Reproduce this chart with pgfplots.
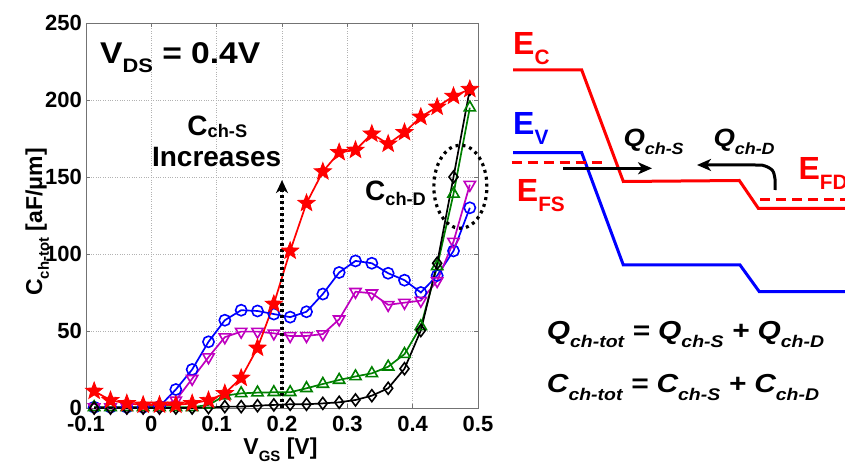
\documentclass[border=0pt]{standalone}
\usepackage{pgfplots}
\pgfplotsset{compat=1.18}
\usepackage{graphicx}
\usepackage{fontspec}
\setmainfont{Liberation Sans}
\usetikzlibrary{arrows.meta}

\definecolor{mred}{rgb}{1,0,0}
\definecolor{mblue}{rgb}{0,0,1}
\definecolor{mmag}{rgb}{0.75,0,0.75}
\definecolor{mgreen}{rgb}{0,0.5,0}

% lowered, smaller subscript in the current text font (optional drop)
\makeatletter
\newcommand\sub[2][0.3em]{\raisebox{-#1}{\fontsize{\the\dimexpr\f@size pt*13/20\relax}{\baselineskip}\selectfont #2}}
\makeatother
\newcommand\fs[1]{\fontsize{#1}{#1}\selectfont\bfseries}

% filled five-pointed star
\pgfdeclareplotmark{fstar}{%
  \pgfpathmoveto{\pgfpointpolar{90}{\pgfplotmarksize}}%
  \pgfpathlineto{\pgfpointpolar{126}{0.42\pgfplotmarksize}}%
  \pgfpathlineto{\pgfpointpolar{162}{\pgfplotmarksize}}%
  \pgfpathlineto{\pgfpointpolar{198}{0.42\pgfplotmarksize}}%
  \pgfpathlineto{\pgfpointpolar{234}{\pgfplotmarksize}}%
  \pgfpathlineto{\pgfpointpolar{270}{0.42\pgfplotmarksize}}%
  \pgfpathlineto{\pgfpointpolar{306}{\pgfplotmarksize}}%
  \pgfpathlineto{\pgfpointpolar{342}{0.42\pgfplotmarksize}}%
  \pgfpathlineto{\pgfpointpolar{18}{\pgfplotmarksize}}%
  \pgfpathlineto{\pgfpointpolar{54}{0.42\pgfplotmarksize}}%
  \pgfpathclose
  \pgfusepathqfillstroke
}

\begin{document}
\bfseries
\begin{tikzpicture}
\useasboundingbox (0,0) rectangle (845pt,471pt);

% ---------------- capacitance vs gate voltage ----------------
\begin{axis}[
  at={(86pt,63pt)}, anchor=south west,
  scale only axis, width=392pt, height=385pt,
  xmin=-0.1, xmax=0.5, ymin=0, ymax=250,
  xtick={-0.1,0,0.1,0.2,0.3,0.4,0.5},
  xticklabels={-0.1,0,0.1,0.2,0.3,0.4,0.5},
  ytick={0,50,100,150,200,250},
  yticklabels={0,50,100,150,200,250},
  grid=major,
  major grid style={gray!60, dotted, line width=0.8pt},
  axis line style={black!55, line width=0.8pt},
  tick style={black!55, line width=0.8pt},
  tick align=inside, major tick length=4pt,
  ticklabel style={font=\fs{22}},
  xticklabel style={inner sep=0pt, yshift=-8pt},
  yticklabel style={inner sep=0pt, xshift=-4pt},
  xlabel={V\sub{GS} [V]},
  ylabel={C\sub{ch-tot} [aF/μm]},
  label style={font=\fs{23}},
  xlabel style={at={(axis description cs:0.496,-0.122)}, anchor=base},
  ylabel style={at={(axis description cs:-0.112,0.483)}, anchor=base},
  clip=false,
  every axis plot/.append style={line width=1.7pt},
]
\addplot[mblue, mark=o, mark size=5.6pt, mark options={line width=1.6pt}] coordinates {
(-0.0875,0.5)(-0.0625,0.5)(-0.0375,0.5)(-0.0125,0.5)(0.0125,1)(0.0375,12)
(0.0625,25)(0.0875,43)(0.1125,57)(0.1375,63.5)(0.1625,63)(0.1875,61)
(0.2125,59)(0.2375,62.5)(0.2625,74)(0.2875,88)(0.3125,95.5)(0.3375,94)
(0.3625,87.5)(0.3875,83)(0.4125,75)(0.4375,86)(0.4625,102)(0.4875,130)};
\addplot[mmag, mark=triangle, mark size=6.5pt, mark options={rotate=180, line width=1.6pt}] coordinates {
(-0.0875,0.5)(-0.0625,0.5)(-0.0375,0.5)(-0.0125,0.5)(0.0125,0.5)(0.0375,5)
(0.0625,19)(0.0875,33)(0.1125,46)(0.1375,49.6)(0.1625,49.6)(0.1875,48.5)
(0.2125,46.8)(0.2375,46.8)(0.2625,48)(0.2875,57.6)(0.3125,75.5)(0.3375,74.5)
(0.3625,67)(0.3875,68.4)(0.4125,69.7)(0.4375,82.5)(0.4625,108)(0.4875,145)};
\addplot[mgreen, mark=triangle, mark size=6.5pt, mark options={line width=1.6pt}] coordinates {
(-0.0875,0.5)(-0.0625,0.5)(-0.0375,0.5)(-0.0125,0.5)(0.0125,0.5)(0.0375,0.5)
(0.0625,0.5)(0.0875,2)(0.1125,8)(0.1375,9.5)(0.1625,10)(0.1875,10.2)
(0.2125,10.2)(0.2375,12.8)(0.2625,15.6)(0.2875,18.2)(0.3125,20.5)(0.3375,22.5)
(0.3625,26.8)(0.3875,35)(0.4125,53)(0.4375,92)(0.4625,139)(0.4875,195)};
\addplot[black, mark=diamond, mark size=6pt, mark options={line width=1.6pt}] coordinates {
(-0.0875,0)(-0.0625,0)(-0.0375,0)(-0.0125,0)(0.0125,0)(0.0375,0)
(0.0625,0)(0.0875,0.3)(0.1125,0.9)(0.1375,0.9)(0.1625,1.5)(0.1875,2)
(0.2125,2.4)(0.2375,2.4)(0.2625,3)(0.2875,3.7)(0.3125,5.2)(0.3375,8)
(0.3625,12.8)(0.3875,25.5)(0.4125,50.3)(0.4375,94)(0.4625,150)(0.4875,207)};
\addplot[mred, mark=fstar, mark size=9pt, mark options={fill=mred, line width=0.8pt}] coordinates {
(-0.0875,11)(-0.0625,5)(-0.0375,3)(-0.0125,2)(0.0125,2)(0.0375,2)
(0.0625,3)(0.0875,5)(0.1125,9.5)(0.1375,19.5)(0.1625,39)(0.1875,67.5)
(0.2125,102)(0.2375,133)(0.2625,153.5)(0.2875,166)(0.3125,167.5)(0.3375,178)
(0.3625,171.5)(0.3875,179)(0.4125,189)(0.4375,195.5)(0.4625,202.5)(0.4875,207)};

% annotations
\addplot[black, line width=3.2pt, dash pattern=on 3pt off 3pt,
  -{Stealth[length=13pt, width=12pt, inset=4pt]}] coordinates {(0.2,0)(0.2,148)};
\draw[black, line width=3.2pt, dash pattern=on 3pt off 4pt]
  (axis cs:0.473,143.7) ellipse [x radius=0.0406, y radius=27];
\node[anchor=base west, inner sep=0pt, font=\fs{30}] at (axis cs:-0.0786,223.8)
  {\scalebox{1.12}[1]{V\sub{DS} = 0.4V}};
\node[anchor=base, inner sep=0pt, font=\fs{28}] at (axis cs:0.101,177) {C\sub[0.08em]{ch-S}};
\node[anchor=base, inner sep=0pt, font=\fs{28}] at (axis cs:0.1,156.7) {Increases};
\node[anchor=base west, inner sep=0pt, font=\fs{28}] at (axis cs:0.327,135) {C\sub[0.2em]{ch-D}};
\end{axis}

% ---------------- band diagram ----------------
\begin{axis}[
  at={(0pt,0pt)}, anchor=south west,
  scale only axis, width=845pt, height=471pt,
  xmin=0, xmax=845, ymin=0, ymax=471,
  hide axis, clip=false,
]
\addplot[mred, line width=3pt] coordinates {
(513,401)(581.7,401)(623.3,289.5)(739.3,290.5)(758.3,262.7)(850,262.7)};
\addplot[mblue, line width=3pt] coordinates {
(513,318.3)(581.7,318.3)(623.3,206)(740,206)(759.3,179.3)(850,179.3)};
\addplot[mred, line width=3pt, dash pattern=on 10pt off 6pt] coordinates {(511.7,308.3)(605,308.3)};
\addplot[mred, line width=3pt, dash pattern=on 10pt off 6pt] coordinates {(760,271)(850,271)};
\addplot[black, line width=3pt, -{Stealth[length=14pt, width=12pt, inset=4pt]}]
  coordinates {(563.3,302.7)(652,302.7)};
\addplot[black, line width=3pt, smooth, -{Stealth[length=14pt, width=12pt, inset=4pt]}]
  coordinates {(775,281)(775,292)(772.5,300.5)(765,305)(755,306)(697,306)};

\node[anchor=base west, inner sep=0pt, text=mred, font=\fs{32}] at (axis cs:513,416) {E\sub{C}};
\node[anchor=base west, inner sep=0pt, text=mblue, font=\fs{32}] at (axis cs:513,336) {E\sub{V}};
\node[anchor=base west, inner sep=0pt, text=mred, font=\fs{32}] at (axis cs:516.7,269.3) {E\sub{FS}};
\node[anchor=base west, inner sep=0pt, text=mred, font=\fs{32}] at (axis cs:798.3,291) {E\sub{FD}};
\node[anchor=base west, inner sep=0pt, font=\fs{25}\itshape] at (axis cs:623.3,324.3)
  {\scalebox{1.1}[1]{Q\sub{ch-S}}};
\node[anchor=base west, inner sep=0pt, font=\fs{25}\itshape] at (axis cs:713.3,324.3)
  {\scalebox{1.1}[1]{Q\sub{ch-D}}};
\node[anchor=base west, inner sep=0pt, font=\fs{26}\itshape] at (axis cs:546.7,131.7)
  {\scalebox{1.15}[1]{Q\sub{ch-tot} = Q\sub{ch-S} + Q\sub{ch-D}}};
\node[anchor=base west, inner sep=0pt, font=\fs{26}\itshape] at (axis cs:546.7,78.3)
  {\scalebox{1.15}[1]{C\sub{ch-tot} = C\sub{ch-S} + C\sub{ch-D}}};
\end{axis}
\end{tikzpicture}
\end{document}
